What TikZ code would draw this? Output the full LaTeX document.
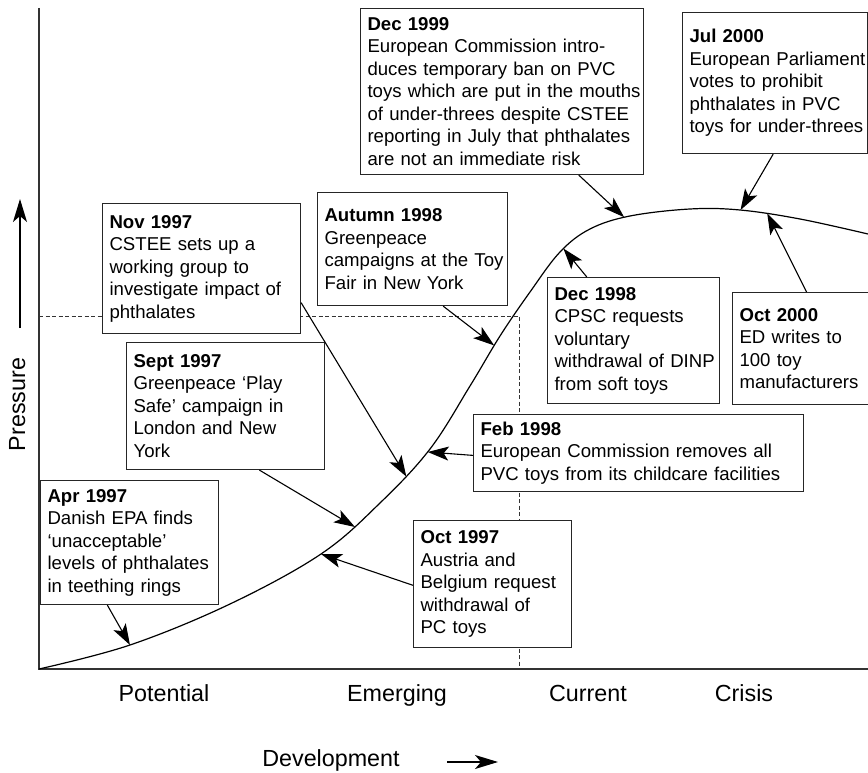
\documentclass[tikz,border=0pt]{standalone}
\usepackage{fontspec}
\setmainfont{Liberation Sans}
\usetikzlibrary{arrows.meta,calc,intersections}
\newcommand\bxl[1]{\mbox{#1}}
\begin{document}
\begin{tikzpicture}[x=1pt,y=-1pt,
  evbox/.style={draw=black!85, line width=1.1pt, fill=white, anchor=north west,
    align=left, inner xsep=7pt, inner ysep=0pt,
    font=\fontsize{18.6}{22.5}\selectfont},
  axlab/.style={font=\fontsize{23.3}{28}\selectfont, inner sep=0pt},
  axisline/.style={draw=black!80, line width=1.5pt},
  guide/.style={draw=black!80, line width=0.8pt, dash pattern=on 4pt off 2.5pt},
  curveline/.style={draw=black, line width=1.2pt},
  conn/.style={draw=black, line width=1.1pt, -{Stealth[length=21pt,width=14pt,inset=5pt]}},
  bigarrow/.style={draw=black, line width=1.3pt, -{Stealth[length=23pt,width=14pt,inset=6pt]}}
]
\useasboundingbox (0,0) rectangle (868,773);

% axes
\coordinate (O) at (39,669);
\coordinate (Ytop) at (39,8);
\coordinate (Xend) at (868,669);
\draw[axisline] (Ytop) -- (O) -- (Xend);

% dashed guides
\coordinate (dA) at (39,316);
\coordinate (dB) at (519,316);
\coordinate (dC) at (519,669);
\draw[guide] (dA) -- (dB) -- (dC);

% the curve
\draw[curveline, name path=curve] plot[smooth, tension=0.6] coordinates {
  (39,669) (130,645) (230,604) (321,554) (380,503) (430,449) (470,386)
  (500,336) (530,292) (560,252) (590,229) (630,216) (690,209) (740,210)
  (800,219) (868,234)};

% boxes
\node[evbox, minimum width=283pt, minimum height=166pt, text width=269pt] (dec99) at (360,8)
 {\textbf{Dec 1999}\\\bxl{European Commission intro-}\\\bxl{duces temporary ban on PVC}\\\bxl{toys which are put in the mouths}\\\bxl{of under-threes despite CSTEE}\\\bxl{reporting in July that phthalates}\\\bxl{are not an immediate risk}};

\node[evbox, minimum width=185pt, minimum height=141pt, text width=171pt] (jul00) at (682,12)
 {\textbf{Jul 2000}\\\bxl{European Parliament}\\\bxl{votes to prohibit}\\\bxl{phthalates in PVC}\\\bxl{toys for under-threes}};

\node[evbox, minimum width=198pt, minimum height=130pt, text width=184pt] (nov97) at (102,203)
 {\textbf{Nov 1997}\\\bxl{CSTEE sets up a}\\\bxl{working group to}\\\bxl{investigate impact of}\\\bxl{phthalates}};

\node[evbox, minimum width=190pt, minimum height=113pt, text width=176pt] (aut98) at (317,192)
 {\textbf{Autumn 1998}\\\bxl{Greenpeace}\\\bxl{campaigns at the Toy}\\\bxl{Fair in New York}};

\node[evbox, minimum width=172pt, minimum height=126pt, text width=158pt] (dec98) at (547,277)
 {\textbf{Dec 1998}\\\bxl{CPSC requests}\\\bxl{voluntary}\\\bxl{withdrawal of DINP}\\\bxl{from soft toys}};

\node[evbox, minimum width=137pt, minimum height=112pt, text width=123pt] (oct00) at (732,292)
 {\textbf{Oct 2000}\\\bxl{ED writes to}\\\bxl{100 toy}\\\bxl{manufacturers}};

\node[evbox, minimum width=198pt, minimum height=127pt, text width=184pt] (sep97) at (126,342)
 {\textbf{Sept 1997}\\\bxl{Greenpeace ‘Play}\\\bxl{Safe’ campaign in}\\\bxl{London and New}\\\bxl{York}};

\node[evbox, minimum width=330pt, minimum height=77pt, text width=316pt] (feb98) at (473,414)
 {\textbf{Feb 1998}\\\bxl{European Commission removes all}\\\bxl{PVC toys from its childcare facilities}};

\node[evbox, minimum width=178pt, minimum height=124pt, text width=164pt] (apr97) at (40,480)
 {\textbf{Apr 1997}\\\bxl{Danish EPA finds}\\\bxl{‘unacceptable’}\\\bxl{levels of phthalates}\\\bxl{in teething rings}};

\node[evbox, minimum width=158pt, minimum height=127pt, text width=144pt] (oct97) at (413,520)
 {\textbf{Oct 1997}\\\bxl{Austria and}\\\bxl{Belgium request}\\\bxl{withdrawal of}\\\bxl{PC toys}};

% connector start points on the boxes
\coordinate (sapr) at ($(apr97.south west)!0.376!(apr97.south east)$);
\coordinate (soct97) at ($(oct97.north west)!0.51!(oct97.south west)$);
\coordinate (ssep) at ($(sep97.south west)!0.67!(sep97.south east)$);
\coordinate (snov) at ($(nov97.north east)!0.76!(nov97.south east)$);
\coordinate (sfeb) at ($(feb98.north west)!0.53!(feb98.south west)$);
\coordinate (saut) at ($(aut98.south west)!0.66!(aut98.south east)$);
\coordinate (sdec98) at ($(dec98.north west)!0.23!(dec98.north east)$);
\coordinate (sdec99) at ($(dec99.south west)!0.77!(dec99.south east)$);
\coordinate (sjul) at ($(jul00.south west)!0.49!(jul00.south east)$);
\coordinate (soct00) at ($(oct00.north west)!0.54!(oct00.north east)$);

% approximate aim points
\coordinate (aapr) at (130,645);
\coordinate (aoct97) at (321,554);
\coordinate (asep) at (355,527);
\coordinate (anov) at (406,476);
\coordinate (afeb) at (428,452);
\coordinate (aaut) at (491,343);
\coordinate (adec98) at (563,248);
\coordinate (adec99) at (625,218);
\coordinate (ajul) at (740,211);
\coordinate (aoct00) at (768,215);

\foreach \n in {apr,oct97,sep,nov,feb,aut,dec98,dec99,jul,oct00}{
  \path[name path=l\n] (s\n) -- ($(s\n)!1.4!(a\n)$);
  \path[name intersections={of=curve and l\n, by={t\n}}];
}

% connectors
\draw[conn] (sapr) -- (tapr);
\draw[conn] (soct97) -- (toct97);
\draw[conn] (ssep) -- (tsep);
\draw[conn] (snov) -- (tnov);
\draw[conn] (sfeb) -- (tfeb);
\draw[conn] (saut) -- (taut);
\draw[conn] (sdec98) -- (tdec98);
\draw[conn] (sdec99) -- (tdec99);
\draw[conn] (sjul) -- (tjul);
\draw[conn] (soct00) -- (toct00);

% axis labels
\node[axlab, anchor=base] (lpot) at (164,701) {Potential};
\node[axlab, anchor=base] (lemg) at (397,701) {Emerging};
\node[axlab, anchor=base] (lcur) at (588,701) {Current};
\node[axlab, anchor=base] (lcri) at (744,701) {Crisis};
\node[axlab, anchor=base] (ldev) at (331,766) {Development};
\node[axlab, rotate=90, anchor=base] (lpres) at (25,404.5) {Pressure};

\coordinate (da1) at (447,762);
\coordinate (da2) at (498,762);
\draw[bigarrow] (da1) -- (da2);
\coordinate (pa1) at (20,328);
\coordinate (pa2) at (20,199);
\draw[bigarrow] (pa1) -- (pa2);
\end{tikzpicture}
\end{document}
